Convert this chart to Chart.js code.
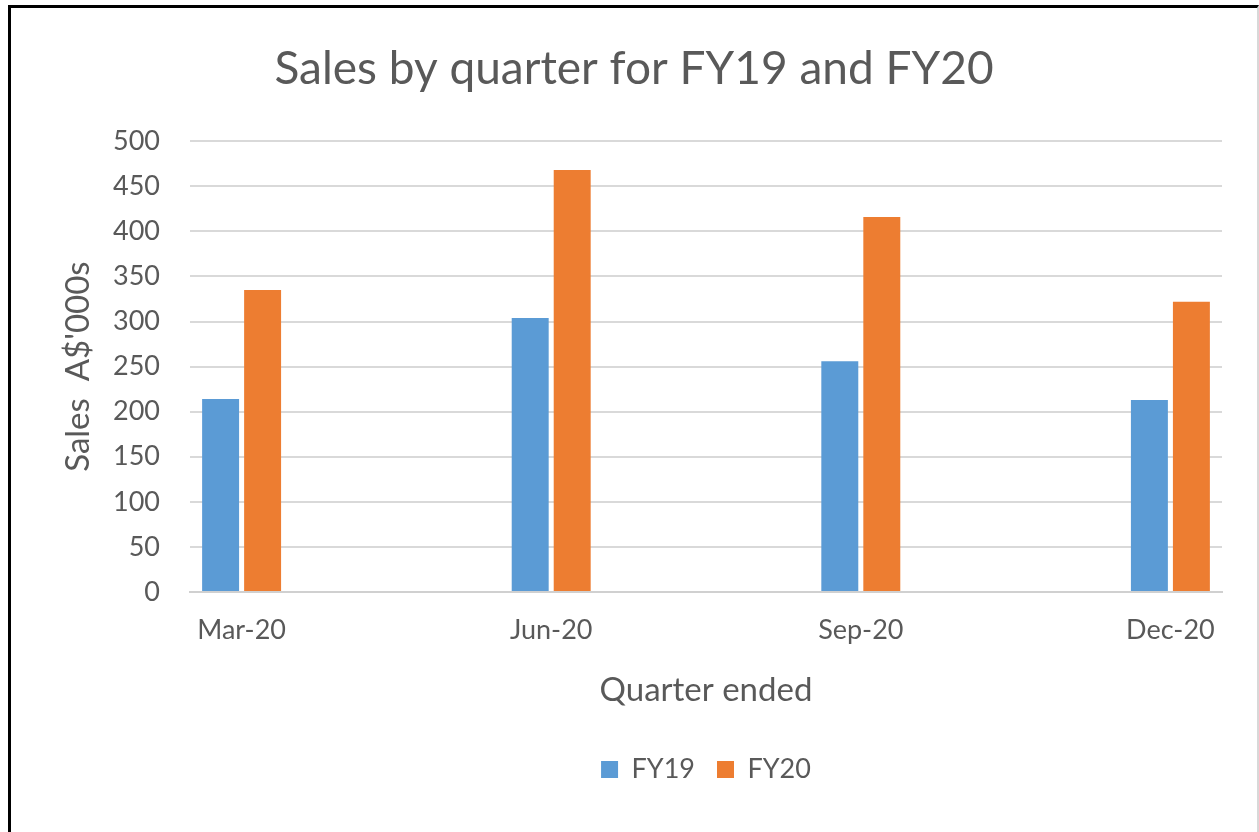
<!DOCTYPE html>
<html>
<head>
<meta charset="utf-8">
<script src="https://cdn.jsdelivr.net/npm/chart.js@4/dist/chart.umd.min.js"></script>
<style>
  html, body { margin: 0; padding: 0; background: #fff; overflow: hidden; width: 1259px; height: 832px; }
  #frame {
    position: absolute; left: 8px; top: 5px;
    width: 1246px; height: 840px;
    border-top: 3px solid #000; border-left: 3px solid #000; border-right: 2px solid #d8d8d8;
    box-sizing: content-box;
  }
  #wrap { position: absolute; left: 0; top: 0; width: 1246px; height: 824px; }
</style>
</head>
<body>
<div id="frame"><div id="wrap"><canvas id="c"></canvas></div></div>
<script>
// Monthly date axis (Excel date axis) and quarter labels
const months = ['Mar-20','Apr-20','May-20','Jun-20','Jul-20','Aug-20','Sep-20','Oct-20','Nov-20','Dec-20'];
const quarters = ['Mar-20','Jun-20','Sep-20','Dec-20'];
const fy19 = [214, 304, 256, 213];
const fy20 = [335, 468, 416, 322];
const yTicks = [0, 50, 100, 150, 200, 250, 300, 350, 400, 450, 500];

const FONT = 'Lato, "Open Sans", sans-serif';
const TXT = '#595959';

new Chart(document.getElementById('c'), {
  type: 'bar',
  data: {
    labels: months,
    datasets: [
      { label: 'FY19', data: quarters.map((q, i) => ({ x: q, y: fy19[i] })), backgroundColor: '#5B9BD5', borderWidth: 0 },
      { label: 'FY20', data: quarters.map((q, i) => ({ x: q, y: fy20[i] })), backgroundColor: '#ED7D31', borderWidth: 0 }
    ]
  },
  options: {
    responsive: true,
    maintainAspectRatio: false,
    animation: false,
    categoryPercentage: 0.814,
    barPercentage: 0.88,
    layout: { padding: { left: 0, right: 0, top: 0, bottom: 39 } },
    plugins: {
      title: {
        display: true,
        text: 'Sales by quarter for FY19 and FY20',
        color: TXT,
        font: { family: FONT, size: 46, weight: 'normal' },
        padding: { top: 34, bottom: 44 }
      },
      legend: {
        position: 'bottom',
        fullSize: false,
        labels: {
          color: TXT,
          font: { family: FONT, size: 27 },
          boxWidth: 17, boxHeight: 17,
          padding: 22
        }
      },
      tooltip: { enabled: false }
    },
    scales: {
      x: {
        type: 'category',
        grid: { display: false, drawTicks: false },
        border: { display: true, color: '#d0d0d0', width: 2 },
        ticks: {
          color: TXT, font: { family: FONT, size: 27 }, padding: 22,
          autoSkip: false, maxRotation: 0,
          callback: function (v, i) { const l = months[i]; return quarters.includes(l) ? l : ''; }
        },
        title: { display: true, text: 'Quarter ended', color: TXT, font: { family: FONT, size: 33 }, padding: { top: 2, bottom: 24 } }
      },
      y: {
        min: 0, max: 500,
        afterBuildTicks: s => { s.ticks = yTicks.map(v => ({ value: v })); },
        afterFit: s => { s.width = 179; },
        grid: { color: '#d9d9d9', lineWidth: 2, drawTicks: false },
        border: { display: false },
        ticks: { color: TXT, font: { family: FONT, size: 27 }, padding: 30 },
        title: { display: true, text: "Sales  A$'000s", color: TXT, font: { family: FONT, size: 33 }, padding: { top: 48, bottom: 0 } }
      },
      spacer: {
        type: 'linear',
        position: 'right',
        display: true,
        afterFit: s => { s.width = 35; },
        grid: { display: false, drawTicks: false },
        border: { display: false },
        ticks: { display: false }
      }
    }
  }
});
</script>
</body>
</html>
